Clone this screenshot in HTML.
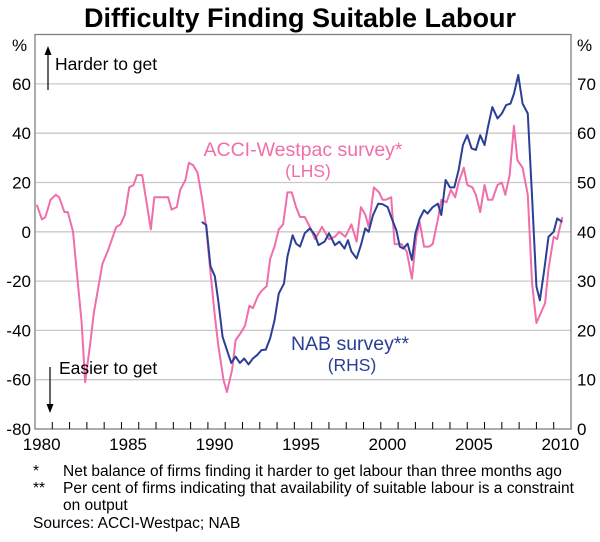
<!DOCTYPE html>
<html><head><meta charset="utf-8"><style>
body{margin:0;background:#fff;}
svg text{font-family:"Liberation Sans",Arial,sans-serif;}
</style></head><body>
<svg width="600" height="537" viewBox="0 0 600 537" id="c">
<text x="300" y="27" text-anchor="middle" font-size="27" font-weight="bold">Difficulty Finding Suitable Labour</text>
<g id="grid"></g>
<rect x="35" y="34.5" width="536" height="394.5" fill="none" stroke="#808080" stroke-width="1.3"/>
<g id="axes"></g>
<g id="series"></g>
<text x="12" y="51" font-size="17">%</text>
<text x="577" y="51" font-size="17">%</text>
<line x1="48" y1="90" x2="48" y2="52" stroke="#000" stroke-width="1.2"/>
<path d="M44.5,55 L48,46 L51.5,55Z" fill="#000"/>
<text x="55" y="70" font-size="17.5">Harder to get</text>
<line x1="50" y1="367" x2="50" y2="407" stroke="#000" stroke-width="1.2"/>
<path d="M46.5,404 L50,413 L53.5,404Z" fill="#000"/>
<text x="59" y="374" font-size="17.5">Easier to get</text>
<text x="303" y="156" text-anchor="middle" font-size="19.5" fill="#f06eaa">ACCI-Westpac survey*</text>
<text x="308" y="177" text-anchor="middle" font-size="17.5" fill="#f06eaa">(LHS)</text>
<text x="350" y="350" text-anchor="middle" font-size="19.5" fill="#2b3f97">NAB survey**</text>
<text x="352" y="371" text-anchor="middle" font-size="17.5" fill="#2b3f97">(RHS)</text>
<g font-size="15.5">
<text x="33" y="476">*</text><text x="63" y="476">Net balance of firms finding it harder to get labour than three months ago</text>
<text x="33" y="493">**</text><text x="63" y="493">Per cent of firms indicating that availability of suitable labour is a constraint</text>
<text x="63" y="510">on output</text>
<text x="33" y="528">Sources: ACCI-Westpac; NAB</text>
</g>
</svg>
<script>
const acciT=[1980.1,1980.4,1980.6,1980.9,1981.2,1981.4,1981.7,1981.9,1982.2,1982.4,1982.7,1982.9,1983.2,1983.4,1983.7,1983.9,1984.2,1984.5,1984.7,1984.95,1985.2,1985.45,1985.7,1985.9,1986.2,1986.45,1986.7,1986.9,1987.2,1987.4,1987.7,1987.9,1988.2,1988.4,1988.7,1988.9,1989.15,1989.4,1989.65,1989.9,1990.1,1990.4,1990.6,1990.9,1991.1,1991.4,1991.6,1991.9,1992.15,1992.4,1992.6,1992.9,1993.1,1993.4,1993.6,1993.85,1994.1,1994.35,1994.6,1994.85,1995.1,1995.33,1995.6,1995.9,1996.2,1996.6,1997.0,1997.35,1997.6,1997.95,1998.3,1998.6,1998.85,1999.1,1999.3,1999.6,1999.9,2000.1,2000.3,2000.6,2000.8,2001.2,2001.5,2001.8,2002.05,2002.25,2002.5,2002.8,2003.0,2003.3,2003.5,2003.8,2004.05,2004.3,2004.5,2004.8,2005.0,2005.3,2005.5,2005.75,2006.0,2006.2,2006.45,2006.75,2007.0,2007.2,2007.45,2007.7,2007.9,2008.2,2008.5,2008.75,2009.0,2009.25,2009.5,2009.7,2010.0,2010.2,2010.5];
const acciV=[11,5,6,13,15,14,8,8,0,-15,-37,-61,-45,-33,-21,-13,-8,-2,2,3,7,18,19,23,23,12,1,14,14,14,14,9,10,17,21,28,27,24,14,2,-13,-34,-46,-60,-65,-56,-44,-41,-38,-30,-31,-26,-24,-22,-11,-6,1,3,16,16,10,6,6,2,-3,2,-3,-2,0,-2,3,-4,10,7,2,18,16,13,13,14,-5,-5,-8,-19,-2,4,-6,-6,-5,5,13,12,17,14,20,26,19,18,15,8,19,13,13,19,20,15,23,43,29,26,15,-21,-37,-33,-29,-15,-2,-3,6];
const nabT=[1989.65,1989.9,1990.15,1990.4,1990.6,1990.85,1991.1,1991.35,1991.6,1991.85,1992.1,1992.35,1992.6,1992.85,1993.1,1993.35,1993.6,1993.85,1994.1,1994.4,1994.6,1994.9,1995.1,1995.33,1995.6,1995.9,1996.2,1996.4,1996.75,1997.0,1997.35,1997.6,1997.9,1998.1,1998.3,1998.6,1998.85,1999.1,1999.3,1999.55,1999.85,2000.1,2000.4,2000.6,2000.9,2001.1,2001.3,2001.55,2001.8,2002.0,2002.25,2002.5,2002.7,2003.0,2003.3,2003.5,2003.75,2004.0,2004.25,2004.5,2004.75,2005.0,2005.25,2005.5,2005.75,2006.0,2006.2,2006.45,2006.75,2007.0,2007.25,2007.5,2007.7,2007.95,2008.2,2008.5,2008.75,2009.0,2009.2,2009.45,2009.7,2010.0,2010.2,2010.5];
const nabV=[42,41.4,33,31,26,18.7,16,13.4,14.7,13.4,14.3,13.1,14.3,15,16,16.1,18.4,22,27.5,29.5,35,39.3,37.6,37,39.7,40.7,39.3,37.3,38,39.7,37.3,38,36.6,38.3,36,34.6,37.3,40.7,40,43.4,45.7,45.6,45,43,40.3,37,36.6,37.6,34.3,39.7,42.7,44.4,43.7,45,45.7,43.4,50.5,49,49,52.5,57.6,59.6,56.9,56.6,59.6,57.6,61.3,65.3,63,64,65.7,66,68,71.8,66,64,47,28.9,26.1,32.2,39,40,42.7,42];
const leftTicks=[-80,-60,-40,-20,0,20,40,60];
const rightTicks=[0,10,20,30,40,50,60,70];
const yearLabels=[1980,1985,1990,1995,2000,2005,2010];
const X0=35,X1=571,T0=1980,T1=2011,YT=34.6,YB=429;
const x=t=>X0+(t-T0)/(T1-T0)*(X1-X0);
const yL=v=>YB-(v+80)/160*(YB-YT);
const yR=v=>YB-v/80*(YB-YT);
const NS='http://www.w3.org/2000/svg';
function mk(tag,attrs,parent){const e=document.createElementNS(NS,tag);for(const k in attrs)e.setAttribute(k,attrs[k]);parent.appendChild(e);return e;}
const grid=document.getElementById('grid'),axes=document.getElementById('axes'),ser=document.getElementById('series');
leftTicks.forEach(v=>{
  if(v>-80){const l=mk('line',{x1:X0,x2:X1,y1:yL(v),y2:yL(v),stroke:'#c8c8c8','stroke-width':1.3},grid);
  
  }
  const t=mk('text',{x:31,y:yL(v)+6,'text-anchor':'end','font-size':17},axes);t.textContent=v;
  
  
});
rightTicks.forEach(v=>{
  const t=mk('text',{x:577,y:yR(v)+6,'font-size':17},axes);t.textContent=v;
  
  
});
for(let yr=1981;yr<2011;yr++){
  const l=mk('line',{x1:x(yr),x2:x(yr),y1:YB,y2:YB-7,stroke:'#000','stroke-width':1},axes);
  
  
}
yearLabels.forEach(yr=>{
  const t=mk('text',{x:x(yr+0.5)-2,y:450,'text-anchor':'middle','font-size':17},axes);t.textContent=yr;
  
  
});
const pa=mk('polyline',{points:acciT.map((t,i)=>x(t)+','+yL(acciV[i])).join(' '),fill:'none',stroke:'#f06eaa','stroke-width':2,'stroke-linejoin':'round'},ser);


const pn=mk('polyline',{points:nabT.map((t,i)=>x(t)+','+yR(nabV[i])).join(' '),fill:'none',stroke:'#2b3f97','stroke-width':2,'stroke-linejoin':'round'},ser);


</script>
</body></html>
